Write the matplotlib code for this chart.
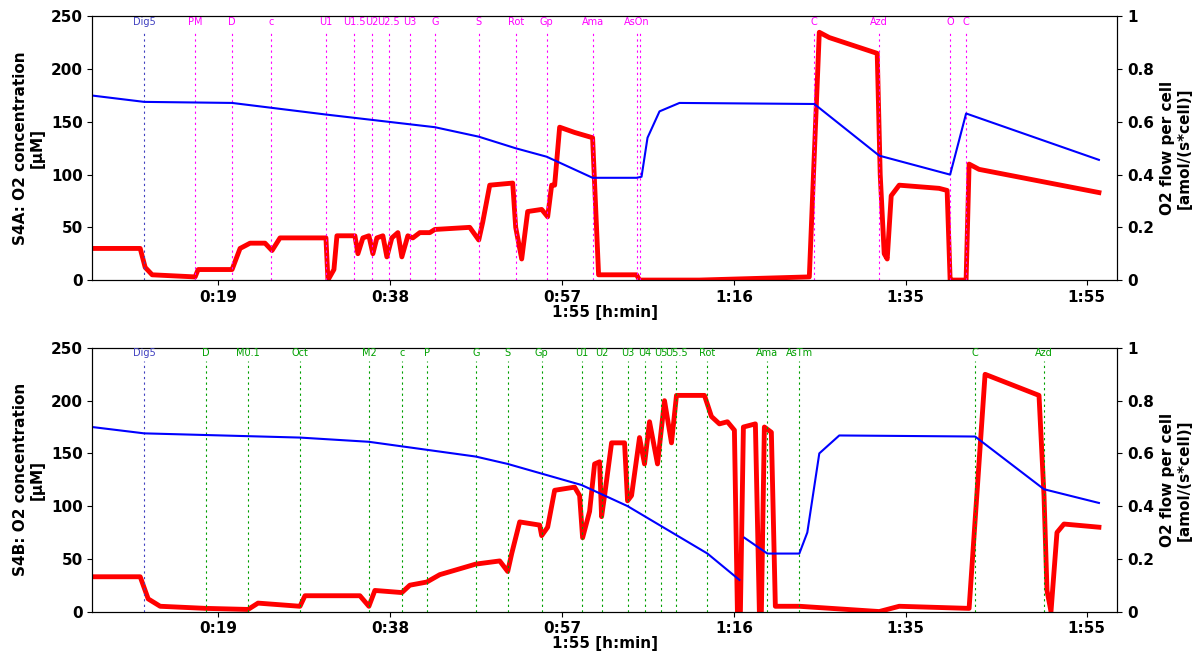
import matplotlib
matplotlib.use("Agg")
import matplotlib.pyplot as plt
import numpy as np

def px2t(p): return 19 + (np.asarray(p, float) - 218) / 9.06

# Panel A
a_ev_px = [144,195,232,271,326,354,372,389,410,435,479,516,547,593,637,640,815,880,951,967]
a_ev_lab = ["Dig5","PM","D","c","U1","U1.5","U2","U2.5","U3","G","S","Rot","Gp","Ama","AsOn","","C","Azd","O","C"]
a_blue_px = [92,144,232,326,435,479,516,547,593,637,642,648,660,680,815,880,951,967,1100]
a_blue = [175,169,168,157,145,136,125,117,97,97,98,135,160,168,167,118,100,158,114]
a_red_px = [92,140,145,152,195,198,205,232,240,250,265,272,280,326,328,334,337,355,358,363,369,373,377,383,387,392,398,402,408,413,420,430,435,470,479,483,490,513,516,522,528,542,548,552,555,560,575,593,599,637,640,700,810,820,830,878,881,885,888,892,900,940,948,951,953,967,970,980,1100]
a_red = [30,30,12,5,3,10,10,10,30,35,35,28,40,40,0,10,42,42,25,40,42,25,40,42,22,40,45,22,42,40,45,45,48,50,38,55,90,92,50,20,65,67,60,90,90,145,140,135,5,5,0,0,3,235,230,215,100,25,20,80,90,87,85,0,0,0,110,105,83]

# Panel B
b_ev_px = [144,206,248,300,369,402,427,476,508,542,582,602,628,645,661,677,708,768,800,976,1045]
b_ev_lab = ["Dig5","D","M0.1","Oct","M2","c","P","G","S","Gp","U1","U2","U3","U4","U5","U5.5","Rot","Ama","AsTm","C","Azd"]
b_blue_px = [92,144,300,369,476,508,582,628,708,740,741,745,768,800,808,820,840,976,1045,1100]
b_blue = [175,169,165,161,147,140,120,100,55,30,np.nan,70,55,55,75,150,167,166,116,103]
b_red_px = [92,140,148,160,206,248,258,300,305,360,369,375,402,410,427,440,476,500,508,512,520,540,542,548,555,575,580,583,590,595,600,602,605,612,625,628,632,640,645,650,658,665,672,677,686,705,712,720,728,735,738,741,744,756,760,762,765,772,776,800,880,900,970,986,1040,1045,1048,1052,1058,1065,1100]
b_red = [33,33,12,5,3,2,8,5,15,15,5,20,18,25,28,35,45,48,38,55,85,82,72,80,115,118,110,70,95,140,142,90,110,160,160,105,110,165,140,180,140,200,160,205,205,205,185,178,180,172,0,0,175,178,0,0,175,170,5,5,0,5,3,225,205,110,20,0,75,83,80]

xticks = [19,38,57,76,95,115]
xticklabels = ["0:19","0:38","0:57","1:16","1:35","1:55"]

fig = plt.figure(figsize=(11.99,6.59), dpi=100)
panels = [
    ([0.077,0.575,0.855,0.40], a_ev_px, a_ev_lab, "#ff00ff", a_blue_px, a_blue, a_red_px, a_red, "S4A: O2 concentration\n[µM]"),
    ([0.077,0.072,0.855,0.40], b_ev_px, b_ev_lab, "#00a000", b_blue_px, b_blue, b_red_px, b_red, "S4B: O2 concentration\n[µM]"),
]
for rect, evp, evl, evc, bp, bv, rp, rv, ylab in panels:
    ax = fig.add_axes(rect)
    ax2 = ax.twinx()
    ax.set_xlim(5.1, 118.4)
    ax.set_ylim(0, 250)
    ax2.set_ylim(0, 1)
    for p, l in zip(evp, evl):
        c = "#4040c0" if l == "Dig5" else evc
        t = float(px2t(p))
        ax.axvline(t, color=c, ls=(0,(2,3)), lw=0.8, ymax=0.95)
        ax.text(t, 245, l, color=c, fontsize=7, ha="center", va="center")
    ax.plot(px2t(bp), bv, color="#0000ff", lw=1.5)
    ax2.plot(px2t(rp), np.array(rv)/250, color="#ff0000", lw=3.5)
    ax.set_zorder(ax2.get_zorder()+1); ax.patch.set_visible(False)
    ax.set_xticks(xticks); ax.set_xticklabels(xticklabels, fontweight="bold", fontsize=11)
    ax.set_yticks([0,50,100,150,200,250])
    ax.set_yticklabels(["0","50","100","150","200","250"], fontweight="bold", fontsize=11)
    ax2.set_yticks([0,0.2,0.4,0.6,0.8,1])
    ax2.set_yticklabels(["0","0.2","0.4","0.6","0.8","1"], fontweight="bold", fontsize=11)
    ax.set_ylabel(ylab, fontweight="bold", fontsize=11)
    ax2.set_ylabel("O2 flow per cell\n[amol/(s*cell)]", fontweight="bold", fontsize=11)
    ax.set_xlabel("1:55 [h:min]", fontweight="bold", fontsize=11, labelpad=0)
fig.savefig("out.png", dpi=100)
